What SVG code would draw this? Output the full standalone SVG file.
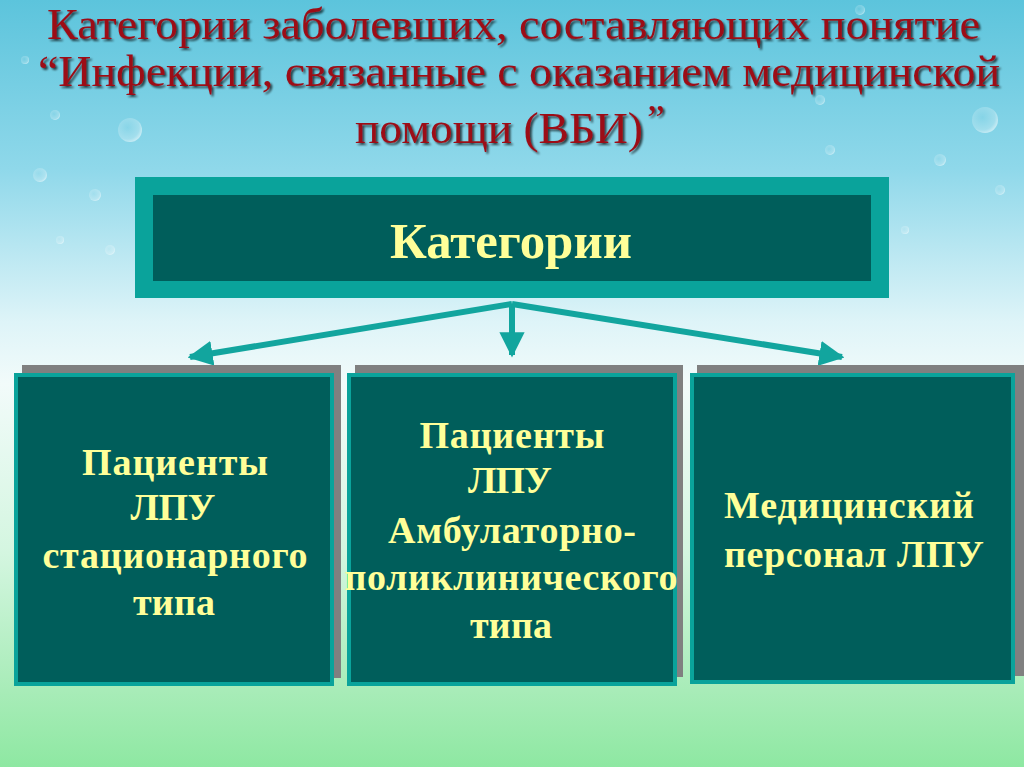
<svg xmlns="http://www.w3.org/2000/svg" width="1024" height="767" viewBox="0 0 1024 767">
<defs>
<linearGradient id="bg" x1="0" y1="0" x2="0" y2="1">
<stop offset="0" stop-color="#5cc4dc"/>
<stop offset="0.22" stop-color="#8fd8ea"/>
<stop offset="0.42" stop-color="#def4f8"/>
<stop offset="0.5" stop-color="#f2fbfa"/>
<stop offset="0.72" stop-color="#d4f6e0"/>
<stop offset="0.9" stop-color="#a8ecb8"/>
<stop offset="1" stop-color="#8ee8a2"/>
</linearGradient>
<radialGradient id="bub" cx="0.4" cy="0.4" r="0.6">
<stop offset="0" stop-color="#ffffff" stop-opacity="0.05"/>
<stop offset="0.8" stop-color="#ffffff" stop-opacity="0.25"/>
<stop offset="1" stop-color="#ffffff" stop-opacity="0.5"/>
</radialGradient>
<filter id="sh" x="-5%" y="-20%" width="110%" height="140%">
<feGaussianBlur in="SourceAlpha" stdDeviation="1"/>
<feOffset dx="2" dy="2" result="o"/>
<feComponentTransfer><feFuncA type="linear" slope="0.7"/></feComponentTransfer>
<feMerge><feMergeNode/><feMergeNode in="SourceGraphic"/></feMerge>
</filter>
<marker id="ah" viewBox="0 0 10 10" refX="9" refY="5" markerWidth="4.2" markerHeight="4.2" orient="auto" markerUnits="strokeWidth">
<path d="M0,0 L10,5 L0,10 Z" fill="#12a59e"/>
</marker>
</defs>
<style>
.title{font-family:"Liberation Serif","Times New Roman",serif;font-size:44px;fill:#9c0c16;}
.lbl{font-family:"Liberation Serif","Times New Roman",serif;font-weight:bold;font-size:38px;fill:#ffff99;text-anchor:middle;}
.hdr{font-size:50px;}
.quote{font-size:40px;}
.shadow{fill:#808080;}
.box{fill:#005e5b;stroke:#0aa39b;stroke-width:4;}
.conn{stroke:#12a59e;stroke-width:6;fill:none;}
.bb{fill:url(#bub);}
</style>
<rect x="0" y="0" width="1024" height="767" fill="url(#bg)"/>
<g id="bubbles">
<circle class="bb" cx="130" cy="130" r="12"/>
<circle class="bb" cx="55" cy="115" r="5"/>
<circle class="bb" cx="40" cy="175" r="7"/>
<circle class="bb" cx="95" cy="195" r="6"/>
<circle class="bb" cx="60" cy="240" r="4"/>
<circle class="bb" cx="110" cy="250" r="5"/>
<circle class="bb" cx="25" cy="60" r="4"/>
<circle class="bb" cx="985" cy="120" r="13"/>
<circle class="bb" cx="940" cy="160" r="6"/>
<circle class="bb" cx="830" cy="150" r="5"/>
<circle class="bb" cx="1000" cy="190" r="5"/>
<circle class="bb" cx="905" cy="230" r="4"/>
<circle class="bb" cx="820" cy="100" r="5"/>
<circle class="bb" cx="860" cy="10" r="5"/>
</g>
<g id="title" filter="url(#sh)">
<text class="title" x="47" y="39" textLength="933" lengthAdjust="spacingAndGlyphs">Категории заболевших, составляющих понятие</text>
<text class="title" x="38" y="86" textLength="962" lengthAdjust="spacingAndGlyphs">“Инфекции, связанные с оказанием медицинской</text>
<text class="title"><tspan x="355" y="143" textLength="288" lengthAdjust="spacingAndGlyphs">помощи (ВБИ)</tspan><tspan class="quote" x="647" y="132">”</tspan></text>
</g>
<g id="header">
<rect x="135" y="177" width="754" height="121" fill="#0aa39b"/>
<rect x="153" y="195" width="718" height="86" fill="#005e5b"/>
<text class="lbl hdr" x="511" y="258" textLength="242" lengthAdjust="spacingAndGlyphs">Категории</text>
</g>
<g id="connectors">
<line class="conn" x1="512" y1="304" x2="190" y2="357" marker-end="url(#ah)"/>
<line class="conn" x1="512" y1="304" x2="512" y2="355" marker-end="url(#ah)"/>
<line class="conn" x1="512" y1="304" x2="842" y2="357" marker-end="url(#ah)"/>
</g>
<g id="node1">
<rect class="shadow" x="22" y="365" width="319" height="313"/>
<rect class="box" x="16" y="375" width="316" height="309"/>
<text class="lbl" x="175" y="475" textLength="186">Пациенты</text>
<text class="lbl" x="173" y="520" textLength="85">ЛПУ</text>
<text class="lbl" x="175" y="568" textLength="265">стационарного</text>
<text class="lbl" x="174" y="615" textLength="82">типа</text>
</g>
<g id="node2">
<rect class="shadow" x="355" y="365" width="328" height="312"/>
<rect class="box" x="349" y="375" width="326" height="309"/>
<text class="lbl" x="512" y="448" textLength="185">Пациенты</text>
<text class="lbl" x="510" y="493" textLength="84">ЛПУ</text>
<text class="lbl" x="512" y="543" textLength="248">Амбулаторно-</text>
<text class="lbl" x="511" y="590" textLength="333">поликлинического</text>
<text class="lbl" x="511" y="638" textLength="82">типа</text>
</g>
<g id="node3">
<rect class="shadow" x="697" y="365" width="327" height="311"/>
<rect class="box" x="692" y="375" width="321" height="307"/>
<text class="lbl" x="849" y="518" textLength="250">Медицинский</text>
<text class="lbl" x="854" y="567" textLength="260">персонал ЛПУ</text>
</g>
</svg>
